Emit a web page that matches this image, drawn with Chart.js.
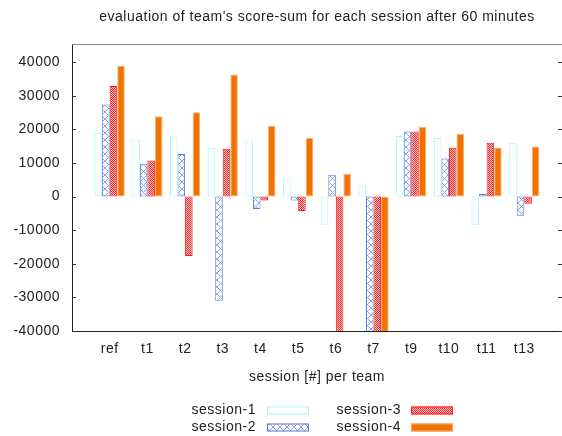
<!DOCTYPE html>
<html>
<head>
<meta charset="utf-8">
<script src="https://cdn.jsdelivr.net/npm/chart.js@4.4.1/dist/chart.umd.min.js"></script>
<style>
  html, body { margin: 0; padding: 0; background: #fff; }
  #chart { display: block; }
</style>
</head>
<body>
<canvas id="chart" width="562" height="436"></canvas>
<script>
const teams = ["ref", "t1", "t2", "t3", "t4", "t5", "t6", "t7", "t9", "t10", "t11", "t13"];
const session1 = [19000, 16900, 17900, 14500, 16700, 5000, -8400, 3100, 18000, 17400, -8500, 16000];
const session2 = [27400, 9800, 12700, -31000, -3700, -1200, 6500, -46000, 19400, 11300, 800, -5700];
const session3 = [32900, 10700, -17700, 14200, -1200, -4300, -46000, -46000, 19400, 14500, 16000, -2100];
const session4 = [38900, 23900, 25100, 36300, 21100, 17500, 6800, -46000, 20800, 18600, 14600, 14900];
const seriesNames = ["session-1", "session-2", "session-3", "session-4"];
const yTickValues = [-40000, -30000, -20000, -10000, 0, 10000, 20000, 30000, 40000];
const titleText = "evaluation of team's score-sum for each session after 60 minutes";

const FONT = "'Liberation Sans', Arial, sans-serif";
const TEXT = "#222";

function makePattern(size, draw) {
  const c = document.createElement("canvas");
  c.width = size;
  c.height = size;
  draw(c.getContext("2d"), size);
  return c.getContext("2d").createPattern(c, "repeat");
}

// blue crosses, like gnuplot fill pattern 2
const crossPattern = makePattern(7, (p, s) => {
  p.fillStyle = "#fff";
  p.fillRect(0, 0, s, s);
  p.strokeStyle = "#8aa2ec";
  p.lineWidth = 1;
  p.beginPath();
  p.moveTo(0, 0); p.lineTo(s, s);
  p.moveTo(s, 0); p.lineTo(0, s);
  p.stroke();
});

// dense red checker, like gnuplot fill pattern 3
const checkPattern = makePattern(2, (p) => {
  p.fillStyle = "#ffc4c4";
  p.fillRect(0, 0, 2, 2);
  p.fillStyle = "#ff2626";
  p.fillRect(0, 0, 1, 1);
  p.fillRect(1, 1, 1, 1);
});

const styles = [
  { fill: "#ffffff", border: "#9ffafa" },
  { fill: crossPattern, border: "#5a78d8" },
  { fill: checkPattern, border: "#ff1818" },
  { fill: "#f27200", border: "#f7ae78" },
];

function points(values) {
  return values.map((v, i) => ({ x: i, y: v }));
}

const datasets = [session1, session2, session3, session4].map((values, i) => ({
  label: seriesNames[i],
  data: points(values),
  backgroundColor: styles[i].fill,
  borderColor: styles[i].border,
  borderWidth: 1,
  borderSkipped: false,
  categoryPercentage: 0.8,
  barPercentage: 1.0,
  clip: 0,
}));

// wider text spacing, closer to gnuplot's png fonts
const spacing = {
  id: "spacing",
  beforeDraw(chart) {
    chart.ctx.letterSpacing = "0.5px";
  },
};

// title over the plot, top border and inward tics on both sides
const frame = {
  id: "frame",
  afterDatasetsDraw(chart) {
    const { ctx, chartArea: a, scales: { y } } = chart;
    ctx.save();
    ctx.font = "14px " + FONT;
    ctx.fillStyle = TEXT;
    ctx.textAlign = "center";
    ctx.textBaseline = "middle";
    ctx.fillText(titleText, (a.left + a.right) / 2, 17);

    ctx.lineWidth = 1;
    ctx.strokeStyle = "#888";
    ctx.beginPath();
    ctx.moveTo(a.left, a.top + 0.5);
    ctx.lineTo(a.right, a.top + 0.5);
    ctx.stroke();
    ctx.strokeStyle = "#333";
    yTickValues.forEach((v) => {
      const py = Math.round(y.getPixelForValue(v)) + 0.5;
      ctx.beginPath();
      ctx.moveTo(a.left, py);
      ctx.lineTo(a.left + 4, py);
      ctx.moveTo(a.right, py);
      ctx.lineTo(a.right - 4, py);
      ctx.stroke();
    });
    ctx.restore();
  },
};

// key below the plot: text first, then sample box
const key = {
  id: "key",
  afterDraw(chart) {
    const ctx = chart.ctx;
    const cols = [{ textRight: 256, boxLeft: 267 }, { textRight: 401, boxLeft: 411 }];
    const rows = [410.5, 427.5];
    ctx.save();
    ctx.font = "14px " + FONT;
    ctx.textAlign = "right";
    ctx.textBaseline = "middle";
    chart.data.datasets.forEach((ds, i) => {
      const col = cols[Math.floor(i / 2)];
      const cy = rows[i % 2];
      ctx.fillStyle = TEXT;
      ctx.fillText(ds.label, col.textRight, cy);
      ctx.fillStyle = ds.backgroundColor;
      ctx.fillRect(col.boxLeft, cy - 4, 42, 8);
      ctx.strokeStyle = ds.borderColor;
      ctx.strokeRect(col.boxLeft + 0.5, cy - 3.5, 41, 7);
    });
    ctx.restore();
  },
};

new Chart(document.getElementById("chart"), {
  type: "bar",
  data: { datasets: datasets },
  plugins: [spacing, frame, key],
  options: {
    responsive: false,
    animation: false,
    layout: { padding: { left: 0, right: 0, top: 44, bottom: 0 } },
    scales: {
      x: {
        type: "linear",
        min: -1,
        max: 12,
        offset: false,
        grid: { display: false, drawTicks: false },
        border: { display: true, color: "#222", width: 1 },
        afterBuildTicks: (scale) => {
          scale.ticks = teams.map((_, i) => ({ value: i }));
        },
        afterFit: (scale) => { scale.height = 105; },
        ticks: {
          autoSkip: false,
          maxRotation: 0,
          padding: 10,
          color: TEXT,
          font: { family: FONT, size: 14 },
          callback: (v) => teams[v] ?? "",
        },
        title: {
          display: true,
          text: "session [#] per team",
          color: TEXT,
          font: { family: FONT, size: 14 },
          padding: { top: 0, bottom: 50 },
        },
      },
      y: {
        min: -40000,
        max: 45400,
        grid: { display: false, drawTicks: false },
        border: { display: true, color: "#222", width: 1 },
        afterBuildTicks: (scale) => {
          scale.ticks = yTickValues.map((v) => ({ value: v }));
        },
        afterFit: (scale) => { scale.width = 72; },
        ticks: {
          padding: 12,
          color: TEXT,
          font: { family: FONT, size: 14 },
          callback: (v) => String(v),
        },
      },
    },
    plugins: {
      legend: { display: false },
      tooltip: { enabled: false },
      title: { display: false },
    },
  },
});
</script>
</body>
</html>
